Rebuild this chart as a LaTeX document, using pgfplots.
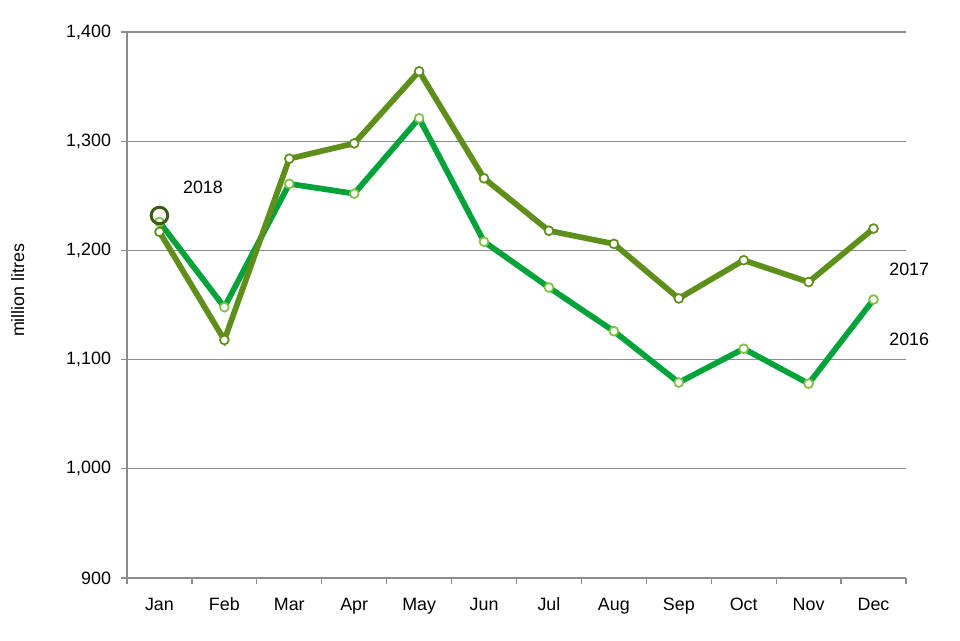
\documentclass[border=0pt]{standalone}
\usepackage{fontspec}
\setmainfont{Liberation Sans}
\usepackage{pgfplots}
\pgfplotsset{compat=1.18}
\definecolor{c2017}{HTML}{5E8F1B}
\definecolor{c2016}{HTML}{00A33A}
\definecolor{c2016m}{HTML}{7DC242}
\definecolor{c2018}{HTML}{3B5A18}
\definecolor{gridc}{HTML}{8C8C8C}
\begin{document}
\begin{tikzpicture}[font=\fontsize{13.4}{15.5}\selectfont]
\useasboundingbox (-95.25pt,-46.5pt) rectangle (624.75pt,433.5pt);
\begin{axis}[
  at={(0,0)}, anchor=south west,
  scale only axis, width=584.25pt, height=409.5pt,
  xmin=-0.5, xmax=11.5, ymin=900, ymax=1400,
  clip=false,
  axis x line*=bottom, axis y line*=left,
  axis line style={gridc, line width=0.9pt},
  xtick={0,...,11},
  xticklabels={Jan,Feb,Mar,Apr,May,Jun,Jul,Aug,Sep,Oct,Nov,Dec},
  major x tick style={draw=none},
  minor xtick={-0.5,0.5,...,11.5},
  minor tick length=4.5pt,
  minor x tick style={gridc, line width=0.9pt},
  ytick={900,1000,...,1400},
  major tick length=4.5pt,
  tick align=outside,
  y tick style={gridc, line width=0.9pt},
  ymajorgrids,
  grid style={gridc, line width=0.9pt},
  /pgf/number format/1000 sep={,},
  /pgf/number format/assume math mode=true,
  xticklabel style={yshift=-9.5pt, anchor=north, text height=0.72em, text depth=0.2em},
  yticklabel style={xshift=-4pt},
  ylabel={million litres},
  ylabel style={at={(rel axis cs:0,0.527)}, anchor=center, yshift=82pt},
]
\addplot[c2016, line width=4.3pt, mark=*, mark size=3.3pt, mark options={draw=c2016m, fill=white, line width=1.3pt}] coordinates {
(0,1226) (1,1148) (2,1261) (3,1252) (4,1321) (5,1208) (6,1166) (7,1126) (8,1079) (9,1110) (10,1078) (11,1155)};
\addplot[c2017, line width=4.3pt, mark=*, mark size=3.3pt, mark options={draw=c2017, fill=white, line width=1.3pt}] coordinates {
(0,1217) (1,1118) (2,1284) (3,1298) (4,1364) (5,1266) (6,1218) (7,1206) (8,1156) (9,1191) (10,1171) (11,1220)};
\addplot[c2018, only marks, mark=o, mark size=6.2pt, mark options={draw=c2018, fill=none, line width=2.2pt}] coordinates {(0,1232)};
\node[anchor=center] at (axis cs:0.67,1258) {2018};
\node[anchor=center] at (axis cs:11.55,1183) {2017};
\node[anchor=center] at (axis cs:11.55,1119) {2016};
\end{axis}
\end{tikzpicture}
\end{document}
